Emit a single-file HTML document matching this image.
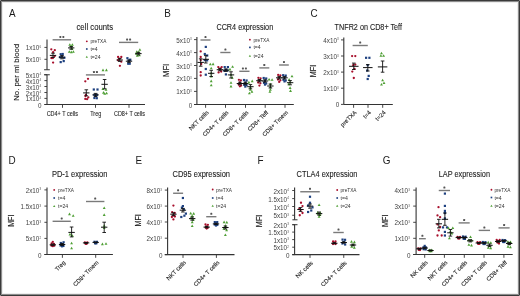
<!DOCTYPE html>
<html><head><meta charset="utf-8"><style>
html,body{margin:0;padding:0;background:#fff;}
body{width:520px;height:296px;overflow:hidden;position:relative;}
svg{position:absolute;left:0;top:0;font-family:"Liberation Sans", sans-serif;will-change:transform;}
.frame{position:absolute;box-sizing:border-box;}
.f1{left:0;top:0;width:520px;height:296px;border:1px solid #3a3a3a;}
.f2{left:1px;top:1px;width:518px;height:294px;border:1px solid rgba(58,58,58,0.58);}
.f3{left:2px;top:2px;width:516px;height:292px;border:1px solid rgba(58,58,58,0.09);}
</style></head><body>
<svg width="520" height="296" viewBox="0 0 520 296">
<rect width="520" height="296" fill="#fff"/>
<text transform="translate(8.90,16.90) scale(0.9,1)" font-size="11" fill="#1a1a1a">A</text>
<text x="76.50" y="29.70" font-size="8.2" text-anchor="start" fill="#222" textLength="36.6" lengthAdjust="spacingAndGlyphs" stroke="#222" stroke-width="0.1">cell counts</text>
<text transform="translate(19.20,72.25) rotate(-90)" font-size="8.0" text-anchor="middle" fill="#222" textLength="57" lengthAdjust="spacingAndGlyphs" stroke="#222" stroke-width="0.15">No. per ml blood</text>
<line x1="47.00" y1="39.50" x2="47.00" y2="69.75" stroke="#333" stroke-width="1.1"/>
<line x1="44.10" y1="69.75" x2="49.80" y2="69.75" stroke="#333" stroke-width="1.0"/>
<line x1="44.40" y1="47.40" x2="47.00" y2="47.40" stroke="#333" stroke-width="0.9"/>
<text x="39.30" y="50.40" font-size="6.3" text-anchor="end" fill="#444">1x10</text>
<text x="39.40" y="47.90" font-size="3.0" text-anchor="start" fill="#555">6</text>
<line x1="44.40" y1="59.30" x2="47.00" y2="59.30" stroke="#333" stroke-width="0.9"/>
<text x="39.30" y="62.30" font-size="6.3" text-anchor="end" fill="#444">5x10</text>
<text x="39.40" y="59.80" font-size="3.0" text-anchor="start" fill="#555">5</text>
<line x1="47.00" y1="74.75" x2="47.00" y2="104.50" stroke="#333" stroke-width="1.1"/>
<line x1="44.10" y1="74.75" x2="49.80" y2="74.75" stroke="#333" stroke-width="1.0"/>
<line x1="44.40" y1="74.75" x2="47.00" y2="74.75" stroke="#333" stroke-width="0.9"/>
<text x="39.30" y="77.75" font-size="6.3" text-anchor="end" fill="#444">5x10</text>
<text x="39.40" y="75.25" font-size="3.0" text-anchor="start" fill="#555">4</text>
<line x1="44.40" y1="80.60" x2="47.00" y2="80.60" stroke="#333" stroke-width="0.9"/>
<text x="39.30" y="83.60" font-size="6.3" text-anchor="end" fill="#444">4x10</text>
<text x="39.40" y="81.10" font-size="3.0" text-anchor="start" fill="#555">4</text>
<line x1="44.40" y1="86.50" x2="47.00" y2="86.50" stroke="#333" stroke-width="0.9"/>
<text x="39.30" y="89.50" font-size="6.3" text-anchor="end" fill="#444">3x10</text>
<text x="39.40" y="87.00" font-size="3.0" text-anchor="start" fill="#555">4</text>
<line x1="44.40" y1="92.50" x2="47.00" y2="92.50" stroke="#333" stroke-width="0.9"/>
<text x="39.30" y="95.50" font-size="6.3" text-anchor="end" fill="#444">2x10</text>
<text x="39.40" y="93.00" font-size="3.0" text-anchor="start" fill="#555">4</text>
<line x1="44.40" y1="98.40" x2="47.00" y2="98.40" stroke="#333" stroke-width="0.9"/>
<text x="39.30" y="101.40" font-size="6.3" text-anchor="end" fill="#444">1x10</text>
<text x="39.40" y="98.90" font-size="3.0" text-anchor="start" fill="#555">4</text>
<line x1="44.40" y1="104.50" x2="47.00" y2="104.50" stroke="#333" stroke-width="0.9"/>
<text x="41.60" y="107.50" font-size="6.3" text-anchor="end" fill="#444">0</text>
<line x1="44.40" y1="104.50" x2="145.00" y2="104.50" stroke="#333" stroke-width="1.1"/>
<line x1="62.50" y1="104.50" x2="62.50" y2="107.80" stroke="#333" stroke-width="0.9"/>
<line x1="95.50" y1="104.50" x2="95.50" y2="107.80" stroke="#333" stroke-width="0.9"/>
<line x1="129.00" y1="104.50" x2="129.00" y2="107.80" stroke="#333" stroke-width="0.9"/>
<text x="62.30" y="115.70" font-size="6.3" text-anchor="middle" fill="#222" textLength="31.3" lengthAdjust="spacingAndGlyphs" stroke="#222" stroke-width="0.08">CD4+ T cells</text>
<text x="95.70" y="115.70" font-size="6.3" text-anchor="middle" fill="#222" textLength="11" lengthAdjust="spacingAndGlyphs" stroke="#222" stroke-width="0.08">Treg</text>
<text x="129.50" y="115.70" font-size="6.3" text-anchor="middle" fill="#222" textLength="31" lengthAdjust="spacingAndGlyphs" stroke="#222" stroke-width="0.08">CD8+ T cells</text>
<circle cx="86.80" cy="41.30" r="0.92" fill="#a80f2c"/>
<rect x="85.97" y="48.17" width="1.65" height="1.65" fill="#1e4180"/>
<path d="M86.80 55.74L87.96 57.83L85.64 57.83Z" fill="#4f9f35"/>
<text x="90.40" y="43.30" font-size="5.8" text-anchor="start" fill="#333" textLength="16.0" lengthAdjust="spacingAndGlyphs">preTXA</text>
<text x="90.40" y="51.00" font-size="5.8" text-anchor="start" fill="#333" textLength="7.3" lengthAdjust="spacingAndGlyphs">t=4</text>
<text x="90.40" y="58.60" font-size="5.8" text-anchor="start" fill="#333" textLength="10.1" lengthAdjust="spacingAndGlyphs">t=24</text>
<line x1="52.60" y1="39.80" x2="71.10" y2="39.80" stroke="#7a7a7a" stroke-width="1.4"/>
<rect x="59.35" y="35.90" width="2" height="2" rx="0.6" fill="#555"/>
<rect x="62.35" y="35.90" width="2" height="2" rx="0.6" fill="#555"/>
<line x1="85.90" y1="74.90" x2="105.00" y2="74.90" stroke="#7a7a7a" stroke-width="1.4"/>
<rect x="92.95" y="71.00" width="2" height="2" rx="0.6" fill="#555"/>
<rect x="95.95" y="71.00" width="2" height="2" rx="0.6" fill="#555"/>
<line x1="119.00" y1="42.40" x2="138.20" y2="42.40" stroke="#7a7a7a" stroke-width="1.4"/>
<rect x="126.10" y="38.50" width="2" height="2" rx="0.6" fill="#555"/>
<rect x="129.10" y="38.50" width="2" height="2" rx="0.6" fill="#555"/>
<circle cx="51.30" cy="49.30" r="1.15" fill="#a80f2c"/>
<circle cx="54.80" cy="50.20" r="1.15" fill="#a80f2c"/>
<circle cx="53.10" cy="52.20" r="1.15" fill="#a80f2c"/>
<circle cx="51.40" cy="58.00" r="1.15" fill="#a80f2c"/>
<circle cx="52.90" cy="58.00" r="1.15" fill="#a80f2c"/>
<circle cx="54.60" cy="56.20" r="1.15" fill="#a80f2c"/>
<circle cx="53.10" cy="62.60" r="1.15" fill="#a80f2c"/>
<line x1="49.80" y1="55.40" x2="56.20" y2="55.40" stroke="#111" stroke-width="1.0"/>
<line x1="53.00" y1="53.20" x2="53.00" y2="57.40" stroke="#111" stroke-width="0.9"/>
<line x1="51.20" y1="53.20" x2="54.80" y2="53.20" stroke="#111" stroke-width="0.9"/>
<line x1="51.20" y1="57.40" x2="54.80" y2="57.40" stroke="#111" stroke-width="0.9"/>
<rect x="59.60" y="53.10" width="2.20" height="2.20" fill="#1e4180"/>
<rect x="61.60" y="52.90" width="2.20" height="2.20" fill="#1e4180"/>
<rect x="58.90" y="56.10" width="2.20" height="2.20" fill="#1e4180"/>
<rect x="63.20" y="56.70" width="2.20" height="2.20" fill="#1e4180"/>
<rect x="59.60" y="61.00" width="2.20" height="2.20" fill="#1e4180"/>
<rect x="62.60" y="60.00" width="2.20" height="2.20" fill="#1e4180"/>
<rect x="60.90" y="55.40" width="2.20" height="2.20" fill="#1e4180"/>
<line x1="58.80" y1="57.20" x2="65.20" y2="57.20" stroke="#111" stroke-width="1.0"/>
<line x1="62.00" y1="55.60" x2="62.00" y2="58.80" stroke="#111" stroke-width="0.9"/>
<line x1="60.20" y1="55.60" x2="63.80" y2="55.60" stroke="#111" stroke-width="0.9"/>
<line x1="60.20" y1="58.80" x2="63.80" y2="58.80" stroke="#111" stroke-width="0.9"/>
<path d="M69.80 43.15L71.25 45.76L68.35 45.76Z" fill="#4f9f35"/>
<path d="M72.40 43.15L73.85 45.76L70.95 45.76Z" fill="#4f9f35"/>
<path d="M71.10 44.65L72.55 47.26L69.65 47.26Z" fill="#4f9f35"/>
<path d="M69.30 50.25L70.75 52.86L67.85 52.86Z" fill="#4f9f35"/>
<path d="M71.30 50.55L72.75 53.16L69.85 53.16Z" fill="#4f9f35"/>
<path d="M73.40 50.25L74.85 52.86L71.95 52.86Z" fill="#4f9f35"/>
<path d="M72.00 47.05L73.45 49.66L70.55 49.66Z" fill="#4f9f35"/>
<line x1="68.00" y1="47.90" x2="74.40" y2="47.90" stroke="#111" stroke-width="1.0"/>
<line x1="71.20" y1="46.60" x2="71.20" y2="49.20" stroke="#111" stroke-width="0.9"/>
<line x1="69.40" y1="46.60" x2="73.00" y2="46.60" stroke="#111" stroke-width="0.9"/>
<line x1="69.40" y1="49.20" x2="73.00" y2="49.20" stroke="#111" stroke-width="0.9"/>
<circle cx="85.30" cy="81.30" r="1.15" fill="#a80f2c"/>
<circle cx="88.00" cy="78.80" r="1.15" fill="#a80f2c"/>
<circle cx="85.90" cy="95.00" r="1.15" fill="#a80f2c"/>
<circle cx="85.30" cy="98.90" r="1.15" fill="#a80f2c"/>
<circle cx="87.10" cy="99.20" r="1.15" fill="#a80f2c"/>
<circle cx="88.30" cy="97.40" r="1.15" fill="#a80f2c"/>
<circle cx="85.50" cy="96.10" r="1.15" fill="#a80f2c"/>
<line x1="83.10" y1="92.90" x2="89.50" y2="92.90" stroke="#111" stroke-width="1.0"/>
<line x1="86.30" y1="89.80" x2="86.30" y2="95.80" stroke="#111" stroke-width="0.9"/>
<line x1="84.50" y1="89.80" x2="88.10" y2="89.80" stroke="#111" stroke-width="0.9"/>
<line x1="84.50" y1="95.80" x2="88.10" y2="95.80" stroke="#111" stroke-width="0.9"/>
<rect x="92.70" y="88.40" width="2.20" height="2.20" fill="#1e4180"/>
<rect x="96.40" y="88.40" width="2.20" height="2.20" fill="#1e4180"/>
<rect x="93.30" y="93.80" width="2.20" height="2.20" fill="#1e4180"/>
<rect x="95.70" y="93.80" width="2.20" height="2.20" fill="#1e4180"/>
<rect x="93.30" y="96.90" width="2.20" height="2.20" fill="#1e4180"/>
<rect x="95.70" y="97.10" width="2.20" height="2.20" fill="#1e4180"/>
<rect x="94.50" y="95.00" width="2.20" height="2.20" fill="#1e4180"/>
<line x1="92.40" y1="94.90" x2="98.80" y2="94.90" stroke="#111" stroke-width="1.0"/>
<line x1="95.60" y1="93.40" x2="95.60" y2="96.40" stroke="#111" stroke-width="0.9"/>
<line x1="93.80" y1="93.40" x2="97.40" y2="93.40" stroke="#111" stroke-width="0.9"/>
<line x1="93.80" y1="96.40" x2="97.40" y2="96.40" stroke="#111" stroke-width="0.9"/>
<path d="M103.00 68.55L104.45 71.16L101.55 71.16Z" fill="#4f9f35"/>
<path d="M106.40 68.55L107.85 71.16L104.95 71.16Z" fill="#4f9f35"/>
<path d="M102.90 87.35L104.35 89.96L101.45 89.96Z" fill="#4f9f35"/>
<path d="M106.00 88.05L107.45 90.66L104.55 90.66Z" fill="#4f9f35"/>
<path d="M103.50 91.05L104.95 93.66L102.05 93.66Z" fill="#4f9f35"/>
<path d="M106.60 91.65L108.05 94.26L105.15 94.26Z" fill="#4f9f35"/>
<path d="M104.70 92.25L106.15 94.86L103.25 94.86Z" fill="#4f9f35"/>
<line x1="101.40" y1="84.30" x2="107.80" y2="84.30" stroke="#111" stroke-width="1.0"/>
<line x1="104.60" y1="79.50" x2="104.60" y2="88.80" stroke="#111" stroke-width="0.9"/>
<line x1="102.80" y1="79.50" x2="106.40" y2="79.50" stroke="#111" stroke-width="0.9"/>
<line x1="102.80" y1="88.80" x2="106.40" y2="88.80" stroke="#111" stroke-width="0.9"/>
<circle cx="118.10" cy="57.00" r="1.15" fill="#a80f2c"/>
<circle cx="121.30" cy="57.00" r="1.15" fill="#a80f2c"/>
<circle cx="119.60" cy="58.70" r="1.15" fill="#a80f2c"/>
<circle cx="118.10" cy="60.20" r="1.15" fill="#a80f2c"/>
<circle cx="121.30" cy="61.70" r="1.15" fill="#a80f2c"/>
<circle cx="119.90" cy="65.80" r="1.15" fill="#a80f2c"/>
<line x1="116.50" y1="60.00" x2="122.90" y2="60.00" stroke="#111" stroke-width="1.0"/>
<line x1="119.70" y1="58.60" x2="119.70" y2="61.40" stroke="#111" stroke-width="0.9"/>
<line x1="117.90" y1="58.60" x2="121.50" y2="58.60" stroke="#111" stroke-width="0.9"/>
<line x1="117.90" y1="61.40" x2="121.50" y2="61.40" stroke="#111" stroke-width="0.9"/>
<rect x="126.30" y="57.10" width="2.20" height="2.20" fill="#1e4180"/>
<rect x="129.20" y="58.60" width="2.20" height="2.20" fill="#1e4180"/>
<rect x="127.60" y="60.10" width="2.20" height="2.20" fill="#1e4180"/>
<rect x="127.10" y="62.60" width="2.20" height="2.20" fill="#1e4180"/>
<rect x="128.60" y="62.60" width="2.20" height="2.20" fill="#1e4180"/>
<rect x="128.40" y="58.90" width="2.20" height="2.20" fill="#1e4180"/>
<line x1="125.80" y1="61.20" x2="132.20" y2="61.20" stroke="#111" stroke-width="1.0"/>
<line x1="129.00" y1="60.00" x2="129.00" y2="62.40" stroke="#111" stroke-width="0.9"/>
<line x1="127.20" y1="60.00" x2="130.80" y2="60.00" stroke="#111" stroke-width="0.9"/>
<line x1="127.20" y1="62.40" x2="130.80" y2="62.40" stroke="#111" stroke-width="0.9"/>
<path d="M136.80 50.15L138.25 52.76L135.35 52.76Z" fill="#4f9f35"/>
<path d="M139.90 48.15L141.35 50.76L138.45 50.76Z" fill="#4f9f35"/>
<path d="M136.30 52.15L137.75 54.76L134.85 54.76Z" fill="#4f9f35"/>
<path d="M139.40 53.65L140.85 56.26L137.95 56.26Z" fill="#4f9f35"/>
<path d="M137.30 54.15L138.75 56.76L135.85 56.76Z" fill="#4f9f35"/>
<path d="M138.70 50.55L140.15 53.16L137.25 53.16Z" fill="#4f9f35"/>
<line x1="135.20" y1="53.60" x2="141.60" y2="53.60" stroke="#111" stroke-width="1.0"/>
<line x1="138.40" y1="52.30" x2="138.40" y2="54.90" stroke="#111" stroke-width="0.9"/>
<line x1="136.60" y1="52.30" x2="140.20" y2="52.30" stroke="#111" stroke-width="0.9"/>
<line x1="136.60" y1="54.90" x2="140.20" y2="54.90" stroke="#111" stroke-width="0.9"/>
<text transform="translate(164.30,16.90) scale(0.9,1)" font-size="11" fill="#1a1a1a">B</text>
<text x="216.40" y="29.75" font-size="8.2" text-anchor="start" fill="#222" textLength="56.8" lengthAdjust="spacingAndGlyphs" stroke="#222" stroke-width="0.1">CCR4 expression</text>
<text transform="translate(169.40,70.40) rotate(-90)" font-size="8.5" text-anchor="middle" fill="#222" textLength="13.2" lengthAdjust="spacingAndGlyphs" stroke="#222" stroke-width="0.15">MFI</text>
<line x1="196.90" y1="37.00" x2="196.90" y2="104.50" stroke="#333" stroke-width="1.1"/>
<line x1="194.00" y1="104.50" x2="196.90" y2="104.50" stroke="#333" stroke-width="0.9"/>
<text x="192.20" y="107.50" font-size="6.3" text-anchor="end" fill="#444">0</text>
<line x1="194.00" y1="91.40" x2="196.90" y2="91.40" stroke="#333" stroke-width="0.9"/>
<text x="189.90" y="94.40" font-size="6.3" text-anchor="end" fill="#444">1x10</text>
<text x="190.00" y="91.90" font-size="3.0" text-anchor="start" fill="#555">3</text>
<line x1="194.00" y1="78.40" x2="196.90" y2="78.40" stroke="#333" stroke-width="0.9"/>
<text x="189.90" y="81.40" font-size="6.3" text-anchor="end" fill="#444">2x10</text>
<text x="190.00" y="78.90" font-size="3.0" text-anchor="start" fill="#555">3</text>
<line x1="194.00" y1="65.50" x2="196.90" y2="65.50" stroke="#333" stroke-width="0.9"/>
<text x="189.90" y="68.50" font-size="6.3" text-anchor="end" fill="#444">3x10</text>
<text x="190.00" y="66.00" font-size="3.0" text-anchor="start" fill="#555">3</text>
<line x1="194.00" y1="52.60" x2="196.90" y2="52.60" stroke="#333" stroke-width="0.9"/>
<text x="189.90" y="55.60" font-size="6.3" text-anchor="end" fill="#444">4x10</text>
<text x="190.00" y="53.10" font-size="3.0" text-anchor="start" fill="#555">3</text>
<line x1="194.00" y1="39.60" x2="196.90" y2="39.60" stroke="#333" stroke-width="0.9"/>
<text x="189.90" y="42.60" font-size="6.3" text-anchor="end" fill="#444">5x10</text>
<text x="190.00" y="40.10" font-size="3.0" text-anchor="start" fill="#555">3</text>
<line x1="194.00" y1="104.50" x2="293.80" y2="104.50" stroke="#333" stroke-width="1.1"/>
<line x1="205.60" y1="104.50" x2="205.60" y2="107.80" stroke="#333" stroke-width="0.9"/>
<line x1="225.50" y1="104.50" x2="225.50" y2="107.80" stroke="#333" stroke-width="0.9"/>
<line x1="245.50" y1="104.50" x2="245.50" y2="107.80" stroke="#333" stroke-width="0.9"/>
<line x1="265.20" y1="104.50" x2="265.20" y2="107.80" stroke="#333" stroke-width="0.9"/>
<line x1="285.00" y1="104.50" x2="285.00" y2="107.80" stroke="#333" stroke-width="0.9"/>
<circle cx="249.90" cy="39.70" r="0.92" fill="#a80f2c"/>
<rect x="249.07" y="46.57" width="1.65" height="1.65" fill="#1e4180"/>
<path d="M249.90 54.64L251.06 56.73L248.74 56.73Z" fill="#4f9f35"/>
<text x="253.40" y="41.70" font-size="5.8" text-anchor="start" fill="#333" textLength="16.0" lengthAdjust="spacingAndGlyphs">preTXA</text>
<text x="253.40" y="49.40" font-size="5.8" text-anchor="start" fill="#333" textLength="7.3" lengthAdjust="spacingAndGlyphs">t=4</text>
<text x="253.40" y="57.50" font-size="5.8" text-anchor="start" fill="#333" textLength="10.1" lengthAdjust="spacingAndGlyphs">t=24</text>
<line x1="200.50" y1="40.00" x2="210.50" y2="40.00" stroke="#7a7a7a" stroke-width="1.4"/>
<rect x="204.50" y="36.10" width="2" height="2" rx="0.6" fill="#555"/>
<line x1="220.30" y1="52.50" x2="230.50" y2="52.50" stroke="#7a7a7a" stroke-width="1.4"/>
<rect x="224.40" y="48.60" width="2" height="2" rx="0.6" fill="#555"/>
<line x1="239.30" y1="71.30" x2="249.50" y2="71.30" stroke="#7a7a7a" stroke-width="1.4"/>
<rect x="241.90" y="67.40" width="2" height="2" rx="0.6" fill="#555"/>
<rect x="244.90" y="67.40" width="2" height="2" rx="0.6" fill="#555"/>
<line x1="259.30" y1="67.90" x2="269.30" y2="67.90" stroke="#7a7a7a" stroke-width="1.4"/>
<rect x="263.30" y="64.00" width="2" height="2" rx="0.6" fill="#555"/>
<line x1="279.10" y1="65.00" x2="288.80" y2="65.00" stroke="#7a7a7a" stroke-width="1.4"/>
<rect x="282.95" y="61.10" width="2" height="2" rx="0.6" fill="#555"/>
<circle cx="200.70" cy="51.40" r="1.15" fill="#a80f2c"/>
<circle cx="200.70" cy="57.00" r="1.15" fill="#a80f2c"/>
<circle cx="200.70" cy="60.10" r="1.15" fill="#a80f2c"/>
<circle cx="200.70" cy="72.20" r="1.15" fill="#a80f2c"/>
<circle cx="200.70" cy="75.50" r="1.15" fill="#a80f2c"/>
<circle cx="201.20" cy="64.00" r="1.15" fill="#a80f2c"/>
<line x1="197.50" y1="62.40" x2="203.90" y2="62.40" stroke="#111" stroke-width="1.0"/>
<line x1="200.70" y1="58.80" x2="200.70" y2="66.20" stroke="#111" stroke-width="0.9"/>
<line x1="198.90" y1="58.80" x2="202.50" y2="58.80" stroke="#111" stroke-width="0.9"/>
<line x1="198.90" y1="66.20" x2="202.50" y2="66.20" stroke="#111" stroke-width="0.9"/>
<rect x="204.70" y="45.80" width="2.20" height="2.20" fill="#1e4180"/>
<rect x="203.70" y="52.90" width="2.20" height="2.20" fill="#1e4180"/>
<rect x="206.10" y="54.40" width="2.20" height="2.20" fill="#1e4180"/>
<rect x="203.70" y="59.00" width="2.20" height="2.20" fill="#1e4180"/>
<rect x="206.00" y="59.30" width="2.20" height="2.20" fill="#1e4180"/>
<rect x="204.70" y="67.90" width="2.20" height="2.20" fill="#1e4180"/>
<rect x="204.70" y="73.60" width="2.20" height="2.20" fill="#1e4180"/>
<line x1="202.60" y1="59.30" x2="209.00" y2="59.30" stroke="#111" stroke-width="1.0"/>
<line x1="205.80" y1="55.60" x2="205.80" y2="63.00" stroke="#111" stroke-width="0.9"/>
<line x1="204.00" y1="55.60" x2="207.60" y2="55.60" stroke="#111" stroke-width="0.9"/>
<line x1="204.00" y1="63.00" x2="207.60" y2="63.00" stroke="#111" stroke-width="0.9"/>
<path d="M210.30 62.75L211.75 65.36L208.85 65.36Z" fill="#4f9f35"/>
<path d="M213.10 62.55L214.55 65.16L211.65 65.16Z" fill="#4f9f35"/>
<path d="M211.20 66.65L212.65 69.26L209.75 69.26Z" fill="#4f9f35"/>
<path d="M211.20 71.55L212.65 74.16L209.75 74.16Z" fill="#4f9f35"/>
<path d="M211.20 74.85L212.65 77.46L209.75 77.46Z" fill="#4f9f35"/>
<path d="M211.20 79.55L212.65 82.16L209.75 82.16Z" fill="#4f9f35"/>
<path d="M211.20 83.65L212.65 86.26L209.75 86.26Z" fill="#4f9f35"/>
<line x1="208.00" y1="73.30" x2="214.40" y2="73.30" stroke="#111" stroke-width="1.0"/>
<line x1="211.20" y1="70.30" x2="211.20" y2="76.50" stroke="#111" stroke-width="0.9"/>
<line x1="209.40" y1="70.30" x2="213.00" y2="70.30" stroke="#111" stroke-width="0.9"/>
<line x1="209.40" y1="76.50" x2="213.00" y2="76.50" stroke="#111" stroke-width="0.9"/>
<circle cx="218.30" cy="67.10" r="1.15" fill="#a80f2c"/>
<circle cx="221.70" cy="67.10" r="1.15" fill="#a80f2c"/>
<circle cx="219.90" cy="69.70" r="1.15" fill="#a80f2c"/>
<circle cx="218.60" cy="72.40" r="1.15" fill="#a80f2c"/>
<circle cx="221.20" cy="71.50" r="1.15" fill="#a80f2c"/>
<circle cx="220.20" cy="68.50" r="1.15" fill="#a80f2c"/>
<line x1="216.70" y1="69.70" x2="223.10" y2="69.70" stroke="#111" stroke-width="1.0"/>
<line x1="219.90" y1="68.60" x2="219.90" y2="70.80" stroke="#111" stroke-width="0.9"/>
<line x1="218.10" y1="68.60" x2="221.70" y2="68.60" stroke="#111" stroke-width="0.9"/>
<line x1="218.10" y1="70.80" x2="221.70" y2="70.80" stroke="#111" stroke-width="0.9"/>
<rect x="223.60" y="66.00" width="2.20" height="2.20" fill="#1e4180"/>
<rect x="226.80" y="66.00" width="2.20" height="2.20" fill="#1e4180"/>
<rect x="224.80" y="68.60" width="2.20" height="2.20" fill="#1e4180"/>
<rect x="223.30" y="69.70" width="2.20" height="2.20" fill="#1e4180"/>
<rect x="226.40" y="69.40" width="2.20" height="2.20" fill="#1e4180"/>
<rect x="224.80" y="73.30" width="2.20" height="2.20" fill="#1e4180"/>
<line x1="222.70" y1="70.20" x2="229.10" y2="70.20" stroke="#111" stroke-width="1.0"/>
<line x1="225.90" y1="69.00" x2="225.90" y2="71.40" stroke="#111" stroke-width="0.9"/>
<line x1="224.10" y1="69.00" x2="227.70" y2="69.00" stroke="#111" stroke-width="0.9"/>
<line x1="224.10" y1="71.40" x2="227.70" y2="71.40" stroke="#111" stroke-width="0.9"/>
<path d="M232.60 65.25L234.05 67.86L231.15 67.86Z" fill="#4f9f35"/>
<path d="M230.00 67.85L231.45 70.46L228.55 70.46Z" fill="#4f9f35"/>
<path d="M231.00 73.15L232.45 75.76L229.55 75.76Z" fill="#4f9f35"/>
<path d="M231.00 81.25L232.45 83.86L229.55 83.86Z" fill="#4f9f35"/>
<path d="M231.00 84.85L232.45 87.46L229.55 87.46Z" fill="#4f9f35"/>
<path d="M232.20 76.05L233.65 78.66L230.75 78.66Z" fill="#4f9f35"/>
<line x1="227.80" y1="74.90" x2="234.20" y2="74.90" stroke="#111" stroke-width="1.0"/>
<line x1="231.00" y1="71.80" x2="231.00" y2="78.00" stroke="#111" stroke-width="0.9"/>
<line x1="229.20" y1="71.80" x2="232.80" y2="71.80" stroke="#111" stroke-width="0.9"/>
<line x1="229.20" y1="78.00" x2="232.80" y2="78.00" stroke="#111" stroke-width="0.9"/>
<circle cx="238.90" cy="79.80" r="1.15" fill="#a80f2c"/>
<circle cx="240.90" cy="80.30" r="1.15" fill="#a80f2c"/>
<circle cx="239.90" cy="82.50" r="1.15" fill="#a80f2c"/>
<circle cx="238.70" cy="84.50" r="1.15" fill="#a80f2c"/>
<circle cx="241.10" cy="85.50" r="1.15" fill="#a80f2c"/>
<circle cx="239.90" cy="86.30" r="1.15" fill="#a80f2c"/>
<line x1="236.70" y1="83.50" x2="243.10" y2="83.50" stroke="#111" stroke-width="1.0"/>
<line x1="239.90" y1="82.20" x2="239.90" y2="84.80" stroke="#111" stroke-width="0.9"/>
<line x1="238.10" y1="82.20" x2="241.70" y2="82.20" stroke="#111" stroke-width="0.9"/>
<line x1="238.10" y1="84.80" x2="241.70" y2="84.80" stroke="#111" stroke-width="0.9"/>
<rect x="242.90" y="78.90" width="2.20" height="2.20" fill="#1e4180"/>
<rect x="245.50" y="79.40" width="2.20" height="2.20" fill="#1e4180"/>
<rect x="244.20" y="81.50" width="2.20" height="2.20" fill="#1e4180"/>
<rect x="243.20" y="83.70" width="2.20" height="2.20" fill="#1e4180"/>
<rect x="245.40" y="84.10" width="2.20" height="2.20" fill="#1e4180"/>
<rect x="244.20" y="85.50" width="2.20" height="2.20" fill="#1e4180"/>
<line x1="242.10" y1="83.50" x2="248.50" y2="83.50" stroke="#111" stroke-width="1.0"/>
<line x1="245.30" y1="82.20" x2="245.30" y2="84.80" stroke="#111" stroke-width="0.9"/>
<line x1="243.50" y1="82.20" x2="247.10" y2="82.20" stroke="#111" stroke-width="0.9"/>
<line x1="243.50" y1="84.80" x2="247.10" y2="84.80" stroke="#111" stroke-width="0.9"/>
<path d="M252.20 79.55L253.65 82.16L250.75 82.16Z" fill="#4f9f35"/>
<path d="M248.90 80.85L250.35 83.46L247.45 83.46Z" fill="#4f9f35"/>
<path d="M250.40 85.55L251.85 88.16L248.95 88.16Z" fill="#4f9f35"/>
<path d="M250.40 88.05L251.85 90.66L248.95 90.66Z" fill="#4f9f35"/>
<path d="M249.40 91.75L250.85 94.36L247.95 94.36Z" fill="#4f9f35"/>
<path d="M251.90 90.05L253.35 92.66L250.45 92.66Z" fill="#4f9f35"/>
<line x1="247.20" y1="86.70" x2="253.60" y2="86.70" stroke="#111" stroke-width="1.0"/>
<line x1="250.40" y1="84.60" x2="250.40" y2="88.80" stroke="#111" stroke-width="0.9"/>
<line x1="248.60" y1="84.60" x2="252.20" y2="84.60" stroke="#111" stroke-width="0.9"/>
<line x1="248.60" y1="88.80" x2="252.20" y2="88.80" stroke="#111" stroke-width="0.9"/>
<circle cx="258.40" cy="77.80" r="1.15" fill="#a80f2c"/>
<circle cx="260.60" cy="78.30" r="1.15" fill="#a80f2c"/>
<circle cx="259.40" cy="80.50" r="1.15" fill="#a80f2c"/>
<circle cx="258.20" cy="82.50" r="1.15" fill="#a80f2c"/>
<circle cx="260.40" cy="83.30" r="1.15" fill="#a80f2c"/>
<circle cx="259.40" cy="85.60" r="1.15" fill="#a80f2c"/>
<line x1="256.20" y1="80.70" x2="262.60" y2="80.70" stroke="#111" stroke-width="1.0"/>
<line x1="259.40" y1="79.50" x2="259.40" y2="81.90" stroke="#111" stroke-width="0.9"/>
<line x1="257.60" y1="79.50" x2="261.20" y2="79.50" stroke="#111" stroke-width="0.9"/>
<line x1="257.60" y1="81.90" x2="261.20" y2="81.90" stroke="#111" stroke-width="0.9"/>
<rect x="262.60" y="76.90" width="2.20" height="2.20" fill="#1e4180"/>
<rect x="265.10" y="77.40" width="2.20" height="2.20" fill="#1e4180"/>
<rect x="263.90" y="79.70" width="2.20" height="2.20" fill="#1e4180"/>
<rect x="262.90" y="81.70" width="2.20" height="2.20" fill="#1e4180"/>
<rect x="265.10" y="82.40" width="2.20" height="2.20" fill="#1e4180"/>
<rect x="263.90" y="83.50" width="2.20" height="2.20" fill="#1e4180"/>
<line x1="261.80" y1="81.00" x2="268.20" y2="81.00" stroke="#111" stroke-width="1.0"/>
<line x1="265.00" y1="79.80" x2="265.00" y2="82.20" stroke="#111" stroke-width="0.9"/>
<line x1="263.20" y1="79.80" x2="266.80" y2="79.80" stroke="#111" stroke-width="0.9"/>
<line x1="263.20" y1="82.20" x2="266.80" y2="82.20" stroke="#111" stroke-width="0.9"/>
<path d="M269.10 77.95L270.55 80.56L267.65 80.56Z" fill="#4f9f35"/>
<path d="M272.10 78.15L273.55 80.76L270.65 80.76Z" fill="#4f9f35"/>
<path d="M270.40 82.75L271.85 85.36L268.95 85.36Z" fill="#4f9f35"/>
<path d="M270.40 85.35L271.85 87.96L268.95 87.96Z" fill="#4f9f35"/>
<path d="M270.40 88.05L271.85 90.66L268.95 90.66Z" fill="#4f9f35"/>
<path d="M269.90 90.15L271.35 92.76L268.45 92.76Z" fill="#4f9f35"/>
<line x1="267.20" y1="86.00" x2="273.60" y2="86.00" stroke="#111" stroke-width="1.0"/>
<line x1="270.40" y1="84.00" x2="270.40" y2="88.00" stroke="#111" stroke-width="0.9"/>
<line x1="268.60" y1="84.00" x2="272.20" y2="84.00" stroke="#111" stroke-width="0.9"/>
<line x1="268.60" y1="88.00" x2="272.20" y2="88.00" stroke="#111" stroke-width="0.9"/>
<circle cx="278.20" cy="74.90" r="1.15" fill="#a80f2c"/>
<circle cx="280.40" cy="75.40" r="1.15" fill="#a80f2c"/>
<circle cx="279.20" cy="77.60" r="1.15" fill="#a80f2c"/>
<circle cx="278.00" cy="79.50" r="1.15" fill="#a80f2c"/>
<circle cx="280.40" cy="80.30" r="1.15" fill="#a80f2c"/>
<circle cx="279.20" cy="81.90" r="1.15" fill="#a80f2c"/>
<line x1="276.00" y1="77.80" x2="282.40" y2="77.80" stroke="#111" stroke-width="1.0"/>
<line x1="279.20" y1="76.60" x2="279.20" y2="79.00" stroke="#111" stroke-width="0.9"/>
<line x1="277.40" y1="76.60" x2="281.00" y2="76.60" stroke="#111" stroke-width="0.9"/>
<line x1="277.40" y1="79.00" x2="281.00" y2="79.00" stroke="#111" stroke-width="0.9"/>
<rect x="282.10" y="74.10" width="2.20" height="2.20" fill="#1e4180"/>
<rect x="284.60" y="74.50" width="2.20" height="2.20" fill="#1e4180"/>
<rect x="283.40" y="76.70" width="2.20" height="2.20" fill="#1e4180"/>
<rect x="282.40" y="78.70" width="2.20" height="2.20" fill="#1e4180"/>
<rect x="284.60" y="79.40" width="2.20" height="2.20" fill="#1e4180"/>
<rect x="283.40" y="80.30" width="2.20" height="2.20" fill="#1e4180"/>
<line x1="281.30" y1="77.80" x2="287.70" y2="77.80" stroke="#111" stroke-width="1.0"/>
<line x1="284.50" y1="76.60" x2="284.50" y2="79.00" stroke="#111" stroke-width="0.9"/>
<line x1="282.70" y1="76.60" x2="286.30" y2="76.60" stroke="#111" stroke-width="0.9"/>
<line x1="282.70" y1="79.00" x2="286.30" y2="79.00" stroke="#111" stroke-width="0.9"/>
<path d="M292.00 74.75L293.45 77.36L290.55 77.36Z" fill="#4f9f35"/>
<path d="M289.10 78.05L290.55 80.66L287.65 80.66Z" fill="#4f9f35"/>
<path d="M290.10 80.75L291.55 83.36L288.65 83.36Z" fill="#4f9f35"/>
<path d="M288.70 82.55L290.15 85.16L287.25 85.16Z" fill="#4f9f35"/>
<path d="M290.10 86.35L291.55 88.96L288.65 88.96Z" fill="#4f9f35"/>
<path d="M290.50 89.35L291.95 91.96L289.05 91.96Z" fill="#4f9f35"/>
<line x1="286.90" y1="82.70" x2="293.30" y2="82.70" stroke="#111" stroke-width="1.0"/>
<line x1="290.10" y1="80.60" x2="290.10" y2="84.80" stroke="#111" stroke-width="0.9"/>
<line x1="288.30" y1="80.60" x2="291.90" y2="80.60" stroke="#111" stroke-width="0.9"/>
<line x1="288.30" y1="84.80" x2="291.90" y2="84.80" stroke="#111" stroke-width="0.9"/>
<text transform="translate(209.00,113.00) rotate(-45)" font-size="5.9" text-anchor="end" fill="#222" stroke="#222" stroke-width="0.1">NKT cells</text>
<text transform="translate(228.90,113.00) rotate(-45)" font-size="5.9" text-anchor="end" fill="#222" stroke="#222" stroke-width="0.1">CD4+ T cells</text>
<text transform="translate(248.90,113.00) rotate(-45)" font-size="5.9" text-anchor="end" fill="#222" stroke="#222" stroke-width="0.1">CD8+ T cells</text>
<text transform="translate(268.60,113.00) rotate(-45)" font-size="5.9" text-anchor="end" fill="#222" stroke="#222" stroke-width="0.1">CD8+ Teff</text>
<text transform="translate(288.40,113.00) rotate(-45)" font-size="5.9" text-anchor="end" fill="#222" stroke="#222" stroke-width="0.1">CD8+ Tmem</text>
<text transform="translate(310.60,16.90) scale(0.9,1)" font-size="11" fill="#1a1a1a">C</text>
<text x="334.60" y="29.90" font-size="8.2" text-anchor="start" fill="#222" textLength="67.4" lengthAdjust="spacingAndGlyphs" stroke="#222" stroke-width="0.1">TNFR2 on CD8+ Teff</text>
<text transform="translate(316.30,71.00) rotate(-90)" font-size="8.5" text-anchor="middle" fill="#222" textLength="12.5" lengthAdjust="spacingAndGlyphs" stroke="#222" stroke-width="0.15">MFI</text>
<line x1="343.80" y1="37.40" x2="343.80" y2="104.50" stroke="#333" stroke-width="1.1"/>
<line x1="341.00" y1="104.40" x2="343.80" y2="104.40" stroke="#333" stroke-width="0.9"/>
<text x="339.30" y="107.40" font-size="6.3" text-anchor="end" fill="#444">0</text>
<line x1="341.00" y1="88.20" x2="343.80" y2="88.20" stroke="#333" stroke-width="0.9"/>
<text x="337.00" y="91.20" font-size="6.3" text-anchor="end" fill="#444">1x10</text>
<text x="337.10" y="88.70" font-size="3.0" text-anchor="start" fill="#555">3</text>
<line x1="341.00" y1="72.10" x2="343.80" y2="72.10" stroke="#333" stroke-width="0.9"/>
<text x="337.00" y="75.10" font-size="6.3" text-anchor="end" fill="#444">2x10</text>
<text x="337.10" y="72.60" font-size="3.0" text-anchor="start" fill="#555">3</text>
<line x1="341.00" y1="56.00" x2="343.80" y2="56.00" stroke="#333" stroke-width="0.9"/>
<text x="337.00" y="59.00" font-size="6.3" text-anchor="end" fill="#444">3x10</text>
<text x="337.10" y="56.50" font-size="3.0" text-anchor="start" fill="#555">3</text>
<line x1="341.00" y1="39.90" x2="343.80" y2="39.90" stroke="#333" stroke-width="0.9"/>
<text x="337.00" y="42.90" font-size="6.3" text-anchor="end" fill="#444">4x10</text>
<text x="337.10" y="40.40" font-size="3.0" text-anchor="start" fill="#555">3</text>
<line x1="343.80" y1="104.50" x2="392.80" y2="104.50" stroke="#333" stroke-width="1.1"/>
<line x1="353.60" y1="104.50" x2="353.60" y2="107.80" stroke="#333" stroke-width="0.9"/>
<line x1="368.00" y1="104.50" x2="368.00" y2="107.80" stroke="#333" stroke-width="0.9"/>
<line x1="382.70" y1="104.50" x2="382.70" y2="107.80" stroke="#333" stroke-width="0.9"/>
<line x1="352.60" y1="45.50" x2="367.80" y2="45.50" stroke="#7a7a7a" stroke-width="1.4"/>
<rect x="359.20" y="41.60" width="2" height="2" rx="0.6" fill="#555"/>
<circle cx="352.10" cy="56.10" r="1.15" fill="#a80f2c"/>
<circle cx="355.30" cy="56.10" r="1.15" fill="#a80f2c"/>
<circle cx="353.20" cy="65.20" r="1.15" fill="#a80f2c"/>
<circle cx="355.30" cy="64.60" r="1.15" fill="#a80f2c"/>
<circle cx="354.50" cy="68.80" r="1.15" fill="#a80f2c"/>
<circle cx="352.30" cy="71.60" r="1.15" fill="#a80f2c"/>
<circle cx="353.80" cy="78.00" r="1.15" fill="#a80f2c"/>
<line x1="349.05" y1="66.30" x2="358.55" y2="66.30" stroke="#111" stroke-width="1.0"/>
<line x1="353.80" y1="63.10" x2="353.80" y2="69.50" stroke="#111" stroke-width="0.9"/>
<line x1="352.00" y1="63.10" x2="355.60" y2="63.10" stroke="#111" stroke-width="0.9"/>
<line x1="352.00" y1="69.50" x2="355.60" y2="69.50" stroke="#111" stroke-width="0.9"/>
<rect x="365.00" y="56.70" width="2.20" height="2.20" fill="#1e4180"/>
<rect x="368.30" y="56.70" width="2.20" height="2.20" fill="#1e4180"/>
<rect x="366.60" y="64.10" width="2.20" height="2.20" fill="#1e4180"/>
<rect x="366.10" y="69.40" width="2.20" height="2.20" fill="#1e4180"/>
<rect x="367.60" y="74.80" width="2.20" height="2.20" fill="#1e4180"/>
<rect x="366.60" y="77.90" width="2.20" height="2.20" fill="#1e4180"/>
<line x1="363.05" y1="67.60" x2="372.55" y2="67.60" stroke="#111" stroke-width="1.0"/>
<line x1="367.80" y1="64.60" x2="367.80" y2="71.00" stroke="#111" stroke-width="0.9"/>
<line x1="366.00" y1="64.60" x2="369.60" y2="64.60" stroke="#111" stroke-width="0.9"/>
<line x1="366.00" y1="71.00" x2="369.60" y2="71.00" stroke="#111" stroke-width="0.9"/>
<path d="M381.50 51.65L382.95 54.26L380.05 54.26Z" fill="#4f9f35"/>
<path d="M383.60 54.15L385.05 56.76L382.15 56.76Z" fill="#4f9f35"/>
<path d="M380.90 54.15L382.35 56.76L379.45 56.76Z" fill="#4f9f35"/>
<path d="M382.60 78.65L384.05 81.26L381.15 81.26Z" fill="#4f9f35"/>
<path d="M381.50 82.95L382.95 85.56L380.05 85.56Z" fill="#4f9f35"/>
<path d="M384.00 81.45L385.45 84.06L382.55 84.06Z" fill="#4f9f35"/>
<line x1="377.85" y1="66.90" x2="387.35" y2="66.90" stroke="#111" stroke-width="1.0"/>
<line x1="382.60" y1="61.00" x2="382.60" y2="72.20" stroke="#111" stroke-width="0.9"/>
<line x1="380.80" y1="61.00" x2="384.40" y2="61.00" stroke="#111" stroke-width="0.9"/>
<line x1="380.80" y1="72.20" x2="384.40" y2="72.20" stroke="#111" stroke-width="0.9"/>
<text transform="translate(357.00,113.00) rotate(-45)" font-size="5.9" text-anchor="end" fill="#222" stroke="#222" stroke-width="0.1">preTXA</text>
<text transform="translate(371.40,113.00) rotate(-45)" font-size="5.9" text-anchor="end" fill="#222" stroke="#222" stroke-width="0.1">t=4</text>
<text transform="translate(386.10,113.00) rotate(-45)" font-size="5.9" text-anchor="end" fill="#222" stroke="#222" stroke-width="0.1">t=24</text>
<text transform="translate(8.50,164.40) scale(0.9,1)" font-size="11" fill="#1a1a1a">D</text>
<text x="51.90" y="176.90" font-size="8.2" text-anchor="start" fill="#222" textLength="55.6" lengthAdjust="spacingAndGlyphs" stroke="#222" stroke-width="0.1">PD-1 expression</text>
<text transform="translate(13.80,220.70) rotate(-90)" font-size="8.5" text-anchor="middle" fill="#222" textLength="12.3" lengthAdjust="spacingAndGlyphs" stroke="#222" stroke-width="0.15">MFI</text>
<line x1="47.00" y1="187.40" x2="47.00" y2="254.50" stroke="#333" stroke-width="1.1"/>
<line x1="44.40" y1="254.50" x2="47.00" y2="254.50" stroke="#333" stroke-width="0.9"/>
<text x="41.60" y="257.50" font-size="6.3" text-anchor="end" fill="#444">0</text>
<line x1="44.40" y1="238.40" x2="47.00" y2="238.40" stroke="#333" stroke-width="0.9"/>
<text x="39.30" y="241.40" font-size="6.3" text-anchor="end" fill="#444">5x10</text>
<text x="39.40" y="238.90" font-size="3.0" text-anchor="start" fill="#555">2</text>
<line x1="44.40" y1="222.30" x2="47.00" y2="222.30" stroke="#333" stroke-width="0.9"/>
<text x="39.30" y="225.30" font-size="6.3" text-anchor="end" fill="#444">1x10</text>
<text x="39.40" y="222.80" font-size="3.0" text-anchor="start" fill="#555">3</text>
<line x1="44.40" y1="206.10" x2="47.00" y2="206.10" stroke="#333" stroke-width="0.9"/>
<text x="39.30" y="209.10" font-size="6.3" text-anchor="end" fill="#444">1.5x10</text>
<text x="39.40" y="206.60" font-size="3.0" text-anchor="start" fill="#555">3</text>
<line x1="44.40" y1="189.90" x2="47.00" y2="189.90" stroke="#333" stroke-width="0.9"/>
<text x="39.30" y="192.90" font-size="6.3" text-anchor="end" fill="#444">2x10</text>
<text x="39.40" y="190.40" font-size="3.0" text-anchor="start" fill="#555">3</text>
<line x1="44.40" y1="254.50" x2="112.90" y2="254.50" stroke="#333" stroke-width="1.1"/>
<line x1="62.40" y1="254.50" x2="62.40" y2="257.80" stroke="#333" stroke-width="0.9"/>
<line x1="95.70" y1="254.50" x2="95.70" y2="257.80" stroke="#333" stroke-width="0.9"/>
<circle cx="54.20" cy="189.90" r="0.92" fill="#a80f2c"/>
<rect x="53.38" y="197.18" width="1.65" height="1.65" fill="#1e4180"/>
<path d="M54.20 204.89L55.36 206.98L53.04 206.98Z" fill="#4f9f35"/>
<text x="58.00" y="191.90" font-size="5.8" text-anchor="start" fill="#333" textLength="16.0" lengthAdjust="spacingAndGlyphs">preTXA</text>
<text x="58.00" y="200.00" font-size="5.8" text-anchor="start" fill="#333" textLength="7.3" lengthAdjust="spacingAndGlyphs">t=4</text>
<text x="58.00" y="207.75" font-size="5.8" text-anchor="start" fill="#333" textLength="10.1" lengthAdjust="spacingAndGlyphs">t=24</text>
<line x1="52.60" y1="221.30" x2="70.80" y2="221.30" stroke="#7a7a7a" stroke-width="1.4"/>
<rect x="60.70" y="217.40" width="2" height="2" rx="0.6" fill="#555"/>
<line x1="86.00" y1="201.50" x2="104.40" y2="201.50" stroke="#7a7a7a" stroke-width="1.4"/>
<rect x="94.20" y="197.60" width="2" height="2" rx="0.6" fill="#555"/>
<circle cx="51.60" cy="243.50" r="1.15" fill="#a80f2c"/>
<circle cx="54.00" cy="244.00" r="1.15" fill="#a80f2c"/>
<circle cx="52.80" cy="241.90" r="1.15" fill="#a80f2c"/>
<circle cx="51.30" cy="245.50" r="1.15" fill="#a80f2c"/>
<circle cx="54.30" cy="245.70" r="1.15" fill="#a80f2c"/>
<circle cx="52.80" cy="246.20" r="1.15" fill="#a80f2c"/>
<line x1="49.60" y1="244.80" x2="56.00" y2="244.80" stroke="#111" stroke-width="1.0"/>
<line x1="52.80" y1="244.00" x2="52.80" y2="245.60" stroke="#111" stroke-width="0.9"/>
<line x1="51.00" y1="244.00" x2="54.60" y2="244.00" stroke="#111" stroke-width="0.9"/>
<line x1="51.00" y1="245.60" x2="54.60" y2="245.60" stroke="#111" stroke-width="0.9"/>
<rect x="59.70" y="241.90" width="2.20" height="2.20" fill="#1e4180"/>
<rect x="62.50" y="241.20" width="2.20" height="2.20" fill="#1e4180"/>
<rect x="61.00" y="242.90" width="2.20" height="2.20" fill="#1e4180"/>
<rect x="59.50" y="244.40" width="2.20" height="2.20" fill="#1e4180"/>
<rect x="62.30" y="244.80" width="2.20" height="2.20" fill="#1e4180"/>
<rect x="61.00" y="245.20" width="2.20" height="2.20" fill="#1e4180"/>
<line x1="58.90" y1="244.50" x2="65.30" y2="244.50" stroke="#111" stroke-width="1.0"/>
<line x1="62.10" y1="243.50" x2="62.10" y2="245.50" stroke="#111" stroke-width="0.9"/>
<line x1="60.30" y1="243.50" x2="63.90" y2="243.50" stroke="#111" stroke-width="0.9"/>
<line x1="60.30" y1="245.50" x2="63.90" y2="245.50" stroke="#111" stroke-width="0.9"/>
<path d="M69.50 212.55L70.95 215.16L68.05 215.16Z" fill="#4f9f35"/>
<path d="M73.20 214.25L74.65 216.86L71.75 216.86Z" fill="#4f9f35"/>
<path d="M70.00 232.85L71.45 235.46L68.55 235.46Z" fill="#4f9f35"/>
<path d="M72.40 234.15L73.85 236.76L70.95 236.76Z" fill="#4f9f35"/>
<path d="M71.60 241.75L73.05 244.36L70.15 244.36Z" fill="#4f9f35"/>
<path d="M71.60 246.65L73.05 249.26L70.15 249.26Z" fill="#4f9f35"/>
<line x1="68.40" y1="232.40" x2="74.80" y2="232.40" stroke="#111" stroke-width="1.0"/>
<line x1="71.60" y1="227.00" x2="71.60" y2="236.90" stroke="#111" stroke-width="0.9"/>
<line x1="69.80" y1="227.00" x2="73.40" y2="227.00" stroke="#111" stroke-width="0.9"/>
<line x1="69.80" y1="236.90" x2="73.40" y2="236.90" stroke="#111" stroke-width="0.9"/>
<circle cx="84.90" cy="242.30" r="1.15" fill="#a80f2c"/>
<circle cx="87.30" cy="242.30" r="1.15" fill="#a80f2c"/>
<circle cx="86.10" cy="243.50" r="1.15" fill="#a80f2c"/>
<circle cx="85.50" cy="243.80" r="1.15" fill="#a80f2c"/>
<circle cx="86.70" cy="243.80" r="1.15" fill="#a80f2c"/>
<line x1="82.90" y1="242.90" x2="89.30" y2="242.90" stroke="#111" stroke-width="1.0"/>
<line x1="86.10" y1="242.50" x2="86.10" y2="243.30" stroke="#111" stroke-width="0.9"/>
<line x1="84.30" y1="242.50" x2="87.90" y2="242.50" stroke="#111" stroke-width="0.9"/>
<line x1="84.30" y1="243.30" x2="87.90" y2="243.30" stroke="#111" stroke-width="0.9"/>
<rect x="93.40" y="240.70" width="2.20" height="2.20" fill="#1e4180"/>
<rect x="95.80" y="240.70" width="2.20" height="2.20" fill="#1e4180"/>
<rect x="94.60" y="241.90" width="2.20" height="2.20" fill="#1e4180"/>
<rect x="94.00" y="242.20" width="2.20" height="2.20" fill="#1e4180"/>
<rect x="95.20" y="242.20" width="2.20" height="2.20" fill="#1e4180"/>
<line x1="92.50" y1="242.40" x2="98.90" y2="242.40" stroke="#111" stroke-width="1.0"/>
<line x1="95.70" y1="242.00" x2="95.70" y2="242.80" stroke="#111" stroke-width="0.9"/>
<line x1="93.90" y1="242.00" x2="97.50" y2="242.00" stroke="#111" stroke-width="0.9"/>
<line x1="93.90" y1="242.80" x2="97.50" y2="242.80" stroke="#111" stroke-width="0.9"/>
<path d="M104.20 206.45L105.65 209.06L102.75 209.06Z" fill="#4f9f35"/>
<path d="M104.20 213.35L105.65 215.96L102.75 215.96Z" fill="#4f9f35"/>
<path d="M104.20 224.15L105.65 226.76L102.75 226.76Z" fill="#4f9f35"/>
<path d="M104.20 226.45L105.65 229.06L102.75 229.06Z" fill="#4f9f35"/>
<path d="M102.40 242.55L103.85 245.16L100.95 245.16Z" fill="#4f9f35"/>
<path d="M106.00 242.15L107.45 244.76L104.55 244.76Z" fill="#4f9f35"/>
<line x1="101.00" y1="227.20" x2="107.40" y2="227.20" stroke="#111" stroke-width="1.0"/>
<line x1="104.20" y1="222.20" x2="104.20" y2="232.50" stroke="#111" stroke-width="0.9"/>
<line x1="102.40" y1="222.20" x2="106.00" y2="222.20" stroke="#111" stroke-width="0.9"/>
<line x1="102.40" y1="232.50" x2="106.00" y2="232.50" stroke="#111" stroke-width="0.9"/>
<text transform="translate(65.80,263.00) rotate(-45)" font-size="5.9" text-anchor="end" fill="#222" stroke="#222" stroke-width="0.1">Treg</text>
<text transform="translate(99.10,263.00) rotate(-45)" font-size="5.9" text-anchor="end" fill="#222" stroke="#222" stroke-width="0.1">CD8+ Tmem</text>
<text transform="translate(135.60,164.40) scale(0.9,1)" font-size="11" fill="#1a1a1a">E</text>
<text x="172.50" y="176.90" font-size="8.2" text-anchor="start" fill="#222" textLength="57.5" lengthAdjust="spacingAndGlyphs" stroke="#222" stroke-width="0.1">CD95 expression</text>
<text transform="translate(141.40,220.40) rotate(-90)" font-size="8.5" text-anchor="middle" fill="#222" textLength="12.3" lengthAdjust="spacingAndGlyphs" stroke="#222" stroke-width="0.15">MFI</text>
<line x1="167.60" y1="187.40" x2="167.60" y2="254.60" stroke="#333" stroke-width="1.1"/>
<line x1="164.80" y1="254.60" x2="167.60" y2="254.60" stroke="#333" stroke-width="0.9"/>
<text x="162.50" y="257.60" font-size="6.3" text-anchor="end" fill="#444">0</text>
<line x1="164.80" y1="238.20" x2="167.60" y2="238.20" stroke="#333" stroke-width="0.9"/>
<text x="160.20" y="241.20" font-size="6.3" text-anchor="end" fill="#444">2x10</text>
<text x="160.30" y="238.70" font-size="3.0" text-anchor="start" fill="#555">3</text>
<line x1="164.80" y1="222.00" x2="167.60" y2="222.00" stroke="#333" stroke-width="0.9"/>
<text x="160.20" y="225.00" font-size="6.3" text-anchor="end" fill="#444">4x10</text>
<text x="160.30" y="222.50" font-size="3.0" text-anchor="start" fill="#555">3</text>
<line x1="164.80" y1="206.10" x2="167.60" y2="206.10" stroke="#333" stroke-width="0.9"/>
<text x="160.20" y="209.10" font-size="6.3" text-anchor="end" fill="#444">6x10</text>
<text x="160.30" y="206.60" font-size="3.0" text-anchor="start" fill="#555">3</text>
<line x1="164.80" y1="190.10" x2="167.60" y2="190.10" stroke="#333" stroke-width="0.9"/>
<text x="160.20" y="193.10" font-size="6.3" text-anchor="end" fill="#444">8x10</text>
<text x="160.30" y="190.60" font-size="3.0" text-anchor="start" fill="#555">3</text>
<line x1="164.80" y1="254.60" x2="234.50" y2="254.60" stroke="#333" stroke-width="1.1"/>
<line x1="183.00" y1="254.60" x2="183.00" y2="257.90" stroke="#333" stroke-width="0.9"/>
<line x1="216.40" y1="254.60" x2="216.40" y2="257.90" stroke="#333" stroke-width="0.9"/>
<circle cx="212.70" cy="189.50" r="0.92" fill="#a80f2c"/>
<rect x="211.88" y="197.18" width="1.65" height="1.65" fill="#1e4180"/>
<path d="M212.70 204.64L213.86 206.73L211.54 206.73Z" fill="#4f9f35"/>
<text x="216.00" y="191.50" font-size="5.8" text-anchor="start" fill="#333" textLength="16.0" lengthAdjust="spacingAndGlyphs">preTXA</text>
<text x="216.00" y="200.00" font-size="5.8" text-anchor="start" fill="#333" textLength="7.3" lengthAdjust="spacingAndGlyphs">t=4</text>
<text x="216.00" y="207.50" font-size="5.8" text-anchor="start" fill="#333" textLength="10.1" lengthAdjust="spacingAndGlyphs">t=24</text>
<line x1="173.10" y1="193.25" x2="183.10" y2="193.25" stroke="#7a7a7a" stroke-width="1.4"/>
<rect x="177.10" y="189.35" width="2" height="2" rx="0.6" fill="#555"/>
<line x1="206.20" y1="216.70" x2="216.40" y2="216.70" stroke="#7a7a7a" stroke-width="1.4"/>
<rect x="210.30" y="212.80" width="2" height="2" rx="0.6" fill="#555"/>
<circle cx="173.40" cy="205.60" r="1.15" fill="#a80f2c"/>
<circle cx="172.20" cy="212.20" r="1.15" fill="#a80f2c"/>
<circle cx="174.70" cy="213.00" r="1.15" fill="#a80f2c"/>
<circle cx="173.40" cy="215.50" r="1.15" fill="#a80f2c"/>
<circle cx="171.90" cy="217.00" r="1.15" fill="#a80f2c"/>
<circle cx="174.90" cy="216.50" r="1.15" fill="#a80f2c"/>
<circle cx="173.40" cy="219.40" r="1.15" fill="#a80f2c"/>
<line x1="170.20" y1="214.20" x2="176.60" y2="214.20" stroke="#111" stroke-width="1.0"/>
<line x1="173.40" y1="212.80" x2="173.40" y2="215.60" stroke="#111" stroke-width="0.9"/>
<line x1="171.60" y1="212.80" x2="175.20" y2="212.80" stroke="#111" stroke-width="0.9"/>
<line x1="171.60" y1="215.60" x2="175.20" y2="215.60" stroke="#111" stroke-width="0.9"/>
<rect x="181.80" y="196.90" width="2.20" height="2.20" fill="#1e4180"/>
<rect x="181.80" y="205.00" width="2.20" height="2.20" fill="#1e4180"/>
<rect x="180.80" y="206.50" width="2.20" height="2.20" fill="#1e4180"/>
<rect x="182.80" y="208.40" width="2.20" height="2.20" fill="#1e4180"/>
<rect x="180.20" y="215.90" width="2.20" height="2.20" fill="#1e4180"/>
<rect x="183.30" y="214.60" width="2.20" height="2.20" fill="#1e4180"/>
<rect x="184.80" y="212.50" width="2.20" height="2.20" fill="#1e4180"/>
<line x1="179.70" y1="210.20" x2="186.10" y2="210.20" stroke="#111" stroke-width="1.0"/>
<line x1="182.90" y1="208.40" x2="182.90" y2="212.00" stroke="#111" stroke-width="0.9"/>
<line x1="181.10" y1="208.40" x2="184.70" y2="208.40" stroke="#111" stroke-width="0.9"/>
<line x1="181.10" y1="212.00" x2="184.70" y2="212.00" stroke="#111" stroke-width="0.9"/>
<path d="M190.70 211.85L192.15 214.46L189.25 214.46Z" fill="#4f9f35"/>
<path d="M193.70 212.05L195.15 214.66L192.25 214.66Z" fill="#4f9f35"/>
<path d="M192.20 214.35L193.65 216.96L190.75 216.96Z" fill="#4f9f35"/>
<path d="M191.00 216.75L192.45 219.36L189.55 219.36Z" fill="#4f9f35"/>
<path d="M193.40 218.15L194.85 220.76L191.95 220.76Z" fill="#4f9f35"/>
<path d="M192.20 220.55L193.65 223.16L190.75 223.16Z" fill="#4f9f35"/>
<path d="M192.20 224.45L193.65 227.06L190.75 227.06Z" fill="#4f9f35"/>
<line x1="189.00" y1="218.60" x2="195.40" y2="218.60" stroke="#111" stroke-width="1.0"/>
<line x1="192.20" y1="217.00" x2="192.20" y2="220.20" stroke="#111" stroke-width="0.9"/>
<line x1="190.40" y1="217.00" x2="194.00" y2="217.00" stroke="#111" stroke-width="0.9"/>
<line x1="190.40" y1="220.20" x2="194.00" y2="220.20" stroke="#111" stroke-width="0.9"/>
<circle cx="205.50" cy="224.50" r="1.15" fill="#a80f2c"/>
<circle cx="207.90" cy="224.80" r="1.15" fill="#a80f2c"/>
<circle cx="206.70" cy="226.30" r="1.15" fill="#a80f2c"/>
<circle cx="205.70" cy="227.60" r="1.15" fill="#a80f2c"/>
<circle cx="207.70" cy="227.80" r="1.15" fill="#a80f2c"/>
<circle cx="206.70" cy="228.50" r="1.15" fill="#a80f2c"/>
<line x1="203.50" y1="227.10" x2="209.90" y2="227.10" stroke="#111" stroke-width="1.0"/>
<line x1="206.70" y1="226.40" x2="206.70" y2="227.80" stroke="#111" stroke-width="0.9"/>
<line x1="204.90" y1="226.40" x2="208.50" y2="226.40" stroke="#111" stroke-width="0.9"/>
<line x1="204.90" y1="227.80" x2="208.50" y2="227.80" stroke="#111" stroke-width="0.9"/>
<rect x="213.70" y="221.00" width="2.20" height="2.20" fill="#1e4180"/>
<rect x="216.10" y="221.00" width="2.20" height="2.20" fill="#1e4180"/>
<rect x="214.90" y="222.30" width="2.20" height="2.20" fill="#1e4180"/>
<rect x="213.60" y="223.40" width="2.20" height="2.20" fill="#1e4180"/>
<rect x="216.20" y="223.70" width="2.20" height="2.20" fill="#1e4180"/>
<rect x="214.90" y="224.40" width="2.20" height="2.20" fill="#1e4180"/>
<line x1="212.80" y1="223.90" x2="219.20" y2="223.90" stroke="#111" stroke-width="1.0"/>
<line x1="216.00" y1="223.30" x2="216.00" y2="224.50" stroke="#111" stroke-width="0.9"/>
<line x1="214.20" y1="223.30" x2="217.80" y2="223.30" stroke="#111" stroke-width="0.9"/>
<line x1="214.20" y1="224.50" x2="217.80" y2="224.50" stroke="#111" stroke-width="0.9"/>
<path d="M224.10 220.55L225.55 223.16L222.65 223.16Z" fill="#4f9f35"/>
<path d="M226.80 220.85L228.25 223.46L225.35 223.46Z" fill="#4f9f35"/>
<path d="M225.40 224.05L226.85 226.66L223.95 226.66Z" fill="#4f9f35"/>
<path d="M223.90 227.05L225.35 229.66L222.45 229.66Z" fill="#4f9f35"/>
<path d="M226.60 228.55L228.05 231.16L225.15 231.16Z" fill="#4f9f35"/>
<path d="M225.40 233.45L226.85 236.06L223.95 236.06Z" fill="#4f9f35"/>
<line x1="222.20" y1="227.50" x2="228.60" y2="227.50" stroke="#111" stroke-width="1.0"/>
<line x1="225.40" y1="226.00" x2="225.40" y2="229.00" stroke="#111" stroke-width="0.9"/>
<line x1="223.60" y1="226.00" x2="227.20" y2="226.00" stroke="#111" stroke-width="0.9"/>
<line x1="223.60" y1="229.00" x2="227.20" y2="229.00" stroke="#111" stroke-width="0.9"/>
<text transform="translate(186.40,263.00) rotate(-45)" font-size="5.9" text-anchor="end" fill="#222" stroke="#222" stroke-width="0.1">NKT cells</text>
<text transform="translate(219.80,263.00) rotate(-45)" font-size="5.9" text-anchor="end" fill="#222" stroke="#222" stroke-width="0.1">CD4+ T cells</text>
<text transform="translate(257.50,164.40) scale(0.9,1)" font-size="11" fill="#1a1a1a">F</text>
<text x="296.60" y="176.90" font-size="8.2" text-anchor="start" fill="#222" textLength="60.9" lengthAdjust="spacingAndGlyphs" stroke="#222" stroke-width="0.1">CTLA4 expression</text>
<text transform="translate(262.20,220.90) rotate(-90)" font-size="8.5" text-anchor="middle" fill="#222" textLength="12.5" lengthAdjust="spacingAndGlyphs" stroke="#222" stroke-width="0.15">MFI</text>
<line x1="294.60" y1="187.40" x2="294.60" y2="219.80" stroke="#333" stroke-width="1.1"/>
<line x1="292.40" y1="219.80" x2="297.50" y2="219.80" stroke="#333" stroke-width="1.0"/>
<line x1="292.20" y1="215.25" x2="294.80" y2="215.25" stroke="#333" stroke-width="0.9"/>
<text x="287.10" y="218.25" font-size="6.3" text-anchor="end" fill="#444">5x10</text>
<text x="287.20" y="215.75" font-size="3.0" text-anchor="start" fill="#555">3</text>
<line x1="292.20" y1="206.50" x2="294.80" y2="206.50" stroke="#333" stroke-width="0.9"/>
<text x="287.10" y="209.50" font-size="6.3" text-anchor="end" fill="#444">1x10</text>
<text x="287.20" y="207.00" font-size="3.0" text-anchor="start" fill="#555">4</text>
<line x1="292.20" y1="198.60" x2="294.80" y2="198.60" stroke="#333" stroke-width="0.9"/>
<text x="287.10" y="201.60" font-size="6.3" text-anchor="end" fill="#444">1.5x10</text>
<text x="287.20" y="199.10" font-size="3.0" text-anchor="start" fill="#555">4</text>
<line x1="292.20" y1="190.50" x2="294.80" y2="190.50" stroke="#333" stroke-width="0.9"/>
<text x="287.10" y="193.50" font-size="6.3" text-anchor="end" fill="#444">2x10</text>
<text x="287.20" y="191.00" font-size="3.0" text-anchor="start" fill="#555">4</text>
<line x1="294.60" y1="224.70" x2="294.60" y2="254.60" stroke="#333" stroke-width="1.1"/>
<line x1="292.40" y1="224.70" x2="297.50" y2="224.70" stroke="#333" stroke-width="1.0"/>
<line x1="292.20" y1="254.60" x2="294.80" y2="254.60" stroke="#333" stroke-width="0.9"/>
<text x="289.40" y="257.60" font-size="6.3" text-anchor="end" fill="#444">0</text>
<line x1="292.20" y1="247.20" x2="294.80" y2="247.20" stroke="#333" stroke-width="0.9"/>
<text x="287.10" y="250.20" font-size="6.3" text-anchor="end" fill="#444">5x10</text>
<text x="287.20" y="247.70" font-size="3.0" text-anchor="start" fill="#555">2</text>
<line x1="292.20" y1="239.60" x2="294.80" y2="239.60" stroke="#333" stroke-width="0.9"/>
<text x="287.10" y="242.60" font-size="6.3" text-anchor="end" fill="#444">1x10</text>
<text x="287.20" y="240.10" font-size="3.0" text-anchor="start" fill="#555">3</text>
<line x1="292.20" y1="232.10" x2="294.80" y2="232.10" stroke="#333" stroke-width="0.9"/>
<text x="287.10" y="235.10" font-size="6.3" text-anchor="end" fill="#444">1.5x10</text>
<text x="287.20" y="232.60" font-size="3.0" text-anchor="start" fill="#555">3</text>
<line x1="292.20" y1="224.70" x2="294.80" y2="224.70" stroke="#333" stroke-width="0.9"/>
<text x="287.10" y="227.70" font-size="6.3" text-anchor="end" fill="#444">2x10</text>
<text x="287.20" y="225.20" font-size="3.0" text-anchor="start" fill="#555">3</text>
<line x1="292.20" y1="254.60" x2="359.50" y2="254.60" stroke="#333" stroke-width="1.1"/>
<line x1="310.00" y1="254.60" x2="310.00" y2="257.90" stroke="#333" stroke-width="0.9"/>
<line x1="343.75" y1="254.60" x2="343.75" y2="257.90" stroke="#333" stroke-width="0.9"/>
<circle cx="337.20" cy="190.00" r="0.92" fill="#a80f2c"/>
<rect x="336.38" y="197.18" width="1.65" height="1.65" fill="#1e4180"/>
<path d="M337.20 204.64L338.36 206.73L336.04 206.73Z" fill="#4f9f35"/>
<text x="340.50" y="192.00" font-size="5.8" text-anchor="start" fill="#333" textLength="16.0" lengthAdjust="spacingAndGlyphs">preTXA</text>
<text x="340.50" y="200.00" font-size="5.8" text-anchor="start" fill="#333" textLength="7.3" lengthAdjust="spacingAndGlyphs">t=4</text>
<text x="340.50" y="207.50" font-size="5.8" text-anchor="start" fill="#333" textLength="10.1" lengthAdjust="spacingAndGlyphs">t=24</text>
<line x1="300.25" y1="191.75" x2="319.75" y2="191.75" stroke="#7a7a7a" stroke-width="1.4"/>
<rect x="309.00" y="187.85" width="2" height="2" rx="0.6" fill="#555"/>
<line x1="333.25" y1="232.50" x2="343.75" y2="232.50" stroke="#7a7a7a" stroke-width="1.4"/>
<rect x="337.50" y="228.60" width="2" height="2" rx="0.6" fill="#555"/>
<circle cx="301.00" cy="202.75" r="1.15" fill="#a80f2c"/>
<circle cx="302.50" cy="206.10" r="1.15" fill="#a80f2c"/>
<circle cx="299.40" cy="208.60" r="1.15" fill="#a80f2c"/>
<circle cx="300.60" cy="209.90" r="1.15" fill="#a80f2c"/>
<circle cx="302.50" cy="213.00" r="1.15" fill="#a80f2c"/>
<circle cx="299.75" cy="215.25" r="1.15" fill="#a80f2c"/>
<line x1="297.30" y1="209.50" x2="303.70" y2="209.50" stroke="#111" stroke-width="1.0"/>
<line x1="300.50" y1="207.60" x2="300.50" y2="211.40" stroke="#111" stroke-width="0.9"/>
<line x1="298.70" y1="207.60" x2="302.30" y2="207.60" stroke="#111" stroke-width="0.9"/>
<line x1="298.70" y1="211.40" x2="302.30" y2="211.40" stroke="#111" stroke-width="0.9"/>
<rect x="308.90" y="195.65" width="2.20" height="2.20" fill="#1e4180"/>
<rect x="308.90" y="201.65" width="2.20" height="2.20" fill="#1e4180"/>
<rect x="307.00" y="204.40" width="2.20" height="2.20" fill="#1e4180"/>
<rect x="311.40" y="206.30" width="2.20" height="2.20" fill="#1e4180"/>
<rect x="307.00" y="210.90" width="2.20" height="2.20" fill="#1e4180"/>
<rect x="310.15" y="209.40" width="2.20" height="2.20" fill="#1e4180"/>
<line x1="306.80" y1="206.10" x2="313.20" y2="206.10" stroke="#111" stroke-width="1.0"/>
<line x1="310.00" y1="204.00" x2="310.00" y2="208.20" stroke="#111" stroke-width="0.9"/>
<line x1="308.20" y1="204.00" x2="311.80" y2="204.00" stroke="#111" stroke-width="0.9"/>
<line x1="308.20" y1="208.20" x2="311.80" y2="208.20" stroke="#111" stroke-width="0.9"/>
<path d="M319.10 203.45L320.55 206.06L317.65 206.06Z" fill="#4f9f35"/>
<path d="M318.10 212.15L319.55 214.76L316.65 214.76Z" fill="#4f9f35"/>
<path d="M320.00 213.45L321.45 216.06L318.55 216.06Z" fill="#4f9f35"/>
<path d="M319.10 215.05L320.55 217.66L317.65 217.66Z" fill="#4f9f35"/>
<path d="M317.70 211.05L319.15 213.66L316.25 213.66Z" fill="#4f9f35"/>
<path d="M320.40 211.55L321.85 214.16L318.95 214.16Z" fill="#4f9f35"/>
<line x1="315.90" y1="213.60" x2="322.30" y2="213.60" stroke="#111" stroke-width="1.0"/>
<line x1="319.10" y1="212.00" x2="319.10" y2="215.20" stroke="#111" stroke-width="0.9"/>
<line x1="317.30" y1="212.00" x2="320.90" y2="212.00" stroke="#111" stroke-width="0.9"/>
<line x1="317.30" y1="215.20" x2="320.90" y2="215.20" stroke="#111" stroke-width="0.9"/>
<circle cx="333.10" cy="241.50" r="1.15" fill="#a80f2c"/>
<circle cx="335.50" cy="241.50" r="1.15" fill="#a80f2c"/>
<circle cx="334.30" cy="243.00" r="1.15" fill="#a80f2c"/>
<circle cx="333.00" cy="244.00" r="1.15" fill="#a80f2c"/>
<circle cx="335.60" cy="244.00" r="1.15" fill="#a80f2c"/>
<line x1="331.10" y1="243.25" x2="337.50" y2="243.25" stroke="#111" stroke-width="1.0"/>
<line x1="334.30" y1="242.70" x2="334.30" y2="243.80" stroke="#111" stroke-width="0.9"/>
<line x1="332.50" y1="242.70" x2="336.10" y2="242.70" stroke="#111" stroke-width="0.9"/>
<line x1="332.50" y1="243.80" x2="336.10" y2="243.80" stroke="#111" stroke-width="0.9"/>
<rect x="341.45" y="238.50" width="2.20" height="2.20" fill="#1e4180"/>
<rect x="343.95" y="238.70" width="2.20" height="2.20" fill="#1e4180"/>
<rect x="342.65" y="240.90" width="2.20" height="2.20" fill="#1e4180"/>
<rect x="341.35" y="242.40" width="2.20" height="2.20" fill="#1e4180"/>
<rect x="344.05" y="243.40" width="2.20" height="2.20" fill="#1e4180"/>
<line x1="340.55" y1="242.50" x2="346.95" y2="242.50" stroke="#111" stroke-width="1.0"/>
<line x1="343.75" y1="241.80" x2="343.75" y2="243.20" stroke="#111" stroke-width="0.9"/>
<line x1="341.95" y1="241.80" x2="345.55" y2="241.80" stroke="#111" stroke-width="0.9"/>
<line x1="341.95" y1="243.20" x2="345.55" y2="243.20" stroke="#111" stroke-width="0.9"/>
<path d="M351.50 240.05L352.95 242.66L350.05 242.66Z" fill="#4f9f35"/>
<path d="M354.40 240.55L355.85 243.16L352.95 243.16Z" fill="#4f9f35"/>
<path d="M353.00 243.05L354.45 245.66L351.55 245.66Z" fill="#4f9f35"/>
<path d="M351.70 245.05L353.15 247.66L350.25 247.66Z" fill="#4f9f35"/>
<path d="M354.30 246.05L355.75 248.66L352.85 248.66Z" fill="#4f9f35"/>
<line x1="349.80" y1="245.00" x2="356.20" y2="245.00" stroke="#111" stroke-width="1.0"/>
<line x1="353.00" y1="244.20" x2="353.00" y2="245.80" stroke="#111" stroke-width="0.9"/>
<line x1="351.20" y1="244.20" x2="354.80" y2="244.20" stroke="#111" stroke-width="0.9"/>
<line x1="351.20" y1="245.80" x2="354.80" y2="245.80" stroke="#111" stroke-width="0.9"/>
<text transform="translate(313.40,263.30) rotate(-45)" font-size="5.9" text-anchor="end" fill="#222" stroke="#222" stroke-width="0.1">NK cells</text>
<text transform="translate(347.15,263.30) rotate(-45)" font-size="5.9" text-anchor="end" fill="#222" stroke="#222" stroke-width="0.1">CD4+ T cells</text>
<text transform="translate(382.80,164.40) scale(0.9,1)" font-size="11" fill="#1a1a1a">G</text>
<text x="438.75" y="176.90" font-size="8.2" text-anchor="start" fill="#222" textLength="51.25" lengthAdjust="spacingAndGlyphs" stroke="#222" stroke-width="0.1">LAP expression</text>
<text transform="translate(388.30,220.80) rotate(-90)" font-size="8.5" text-anchor="middle" fill="#222" textLength="12.4" lengthAdjust="spacingAndGlyphs" stroke="#222" stroke-width="0.15">MFI</text>
<line x1="416.10" y1="187.40" x2="416.10" y2="254.50" stroke="#333" stroke-width="1.1"/>
<line x1="413.20" y1="254.50" x2="416.00" y2="254.50" stroke="#333" stroke-width="0.9"/>
<text x="410.40" y="257.50" font-size="6.3" text-anchor="end" fill="#444">0</text>
<line x1="413.20" y1="238.30" x2="416.00" y2="238.30" stroke="#333" stroke-width="0.9"/>
<text x="408.10" y="241.30" font-size="6.3" text-anchor="end" fill="#444">1x10</text>
<text x="408.20" y="238.80" font-size="3.0" text-anchor="start" fill="#555">3</text>
<line x1="413.20" y1="222.30" x2="416.00" y2="222.30" stroke="#333" stroke-width="0.9"/>
<text x="408.10" y="225.30" font-size="6.3" text-anchor="end" fill="#444">2x10</text>
<text x="408.20" y="222.80" font-size="3.0" text-anchor="start" fill="#555">3</text>
<line x1="413.20" y1="206.10" x2="416.00" y2="206.10" stroke="#333" stroke-width="0.9"/>
<text x="408.10" y="209.10" font-size="6.3" text-anchor="end" fill="#444">3x10</text>
<text x="408.20" y="206.60" font-size="3.0" text-anchor="start" fill="#555">3</text>
<line x1="413.20" y1="190.10" x2="416.00" y2="190.10" stroke="#333" stroke-width="0.9"/>
<text x="408.10" y="193.10" font-size="6.3" text-anchor="end" fill="#444">4x10</text>
<text x="408.20" y="190.60" font-size="3.0" text-anchor="start" fill="#555">3</text>
<line x1="413.20" y1="254.50" x2="512.70" y2="254.50" stroke="#333" stroke-width="1.1"/>
<line x1="424.70" y1="254.50" x2="424.70" y2="257.80" stroke="#333" stroke-width="0.9"/>
<line x1="444.40" y1="254.50" x2="444.40" y2="257.80" stroke="#333" stroke-width="0.9"/>
<line x1="464.30" y1="254.50" x2="464.30" y2="257.80" stroke="#333" stroke-width="0.9"/>
<line x1="484.00" y1="254.50" x2="484.00" y2="257.80" stroke="#333" stroke-width="0.9"/>
<line x1="503.90" y1="254.50" x2="503.90" y2="257.80" stroke="#333" stroke-width="0.9"/>
<circle cx="491.45" cy="189.75" r="0.92" fill="#a80f2c"/>
<rect x="490.62" y="196.68" width="1.65" height="1.65" fill="#1e4180"/>
<path d="M491.45 204.64L492.61 206.73L490.29 206.73Z" fill="#4f9f35"/>
<text x="494.40" y="191.75" font-size="5.8" text-anchor="start" fill="#333" textLength="16.0" lengthAdjust="spacingAndGlyphs">preTXA</text>
<text x="494.40" y="199.50" font-size="5.8" text-anchor="start" fill="#333" textLength="7.3" lengthAdjust="spacingAndGlyphs">t=4</text>
<text x="494.40" y="207.50" font-size="5.8" text-anchor="start" fill="#333" textLength="10.1" lengthAdjust="spacingAndGlyphs">t=24</text>
<line x1="419.00" y1="238.70" x2="425.80" y2="238.70" stroke="#7a7a7a" stroke-width="1.4"/>
<rect x="421.40" y="234.80" width="2" height="2" rx="0.6" fill="#555"/>
<line x1="438.75" y1="190.50" x2="450.00" y2="190.50" stroke="#7a7a7a" stroke-width="1.4"/>
<rect x="443.38" y="186.60" width="2" height="2" rx="0.6" fill="#555"/>
<line x1="458.60" y1="222.90" x2="469.70" y2="222.90" stroke="#7a7a7a" stroke-width="1.4"/>
<rect x="463.15" y="219.00" width="2" height="2" rx="0.6" fill="#555"/>
<line x1="478.70" y1="230.40" x2="490.00" y2="230.40" stroke="#7a7a7a" stroke-width="1.4"/>
<rect x="483.35" y="226.50" width="2" height="2" rx="0.6" fill="#555"/>
<line x1="498.50" y1="227.90" x2="509.70" y2="227.90" stroke="#7a7a7a" stroke-width="1.4"/>
<rect x="503.10" y="224.00" width="2" height="2" rx="0.6" fill="#555"/>
<circle cx="418.20" cy="248.30" r="1.15" fill="#a80f2c"/>
<circle cx="420.60" cy="248.30" r="1.15" fill="#a80f2c"/>
<circle cx="419.40" cy="249.50" r="1.15" fill="#a80f2c"/>
<circle cx="418.80" cy="249.90" r="1.15" fill="#a80f2c"/>
<circle cx="420.00" cy="250.10" r="1.15" fill="#a80f2c"/>
<line x1="416.20" y1="248.80" x2="422.60" y2="248.80" stroke="#111" stroke-width="1.0"/>
<line x1="419.40" y1="248.30" x2="419.40" y2="249.30" stroke="#111" stroke-width="0.9"/>
<line x1="417.60" y1="248.30" x2="421.20" y2="248.30" stroke="#111" stroke-width="0.9"/>
<line x1="417.60" y1="249.30" x2="421.20" y2="249.30" stroke="#111" stroke-width="0.9"/>
<rect x="423.60" y="244.80" width="2.20" height="2.20" fill="#1e4180"/>
<rect x="422.30" y="246.40" width="2.20" height="2.20" fill="#1e4180"/>
<rect x="424.90" y="246.40" width="2.20" height="2.20" fill="#1e4180"/>
<rect x="422.60" y="248.10" width="2.20" height="2.20" fill="#1e4180"/>
<rect x="424.60" y="248.30" width="2.20" height="2.20" fill="#1e4180"/>
<line x1="421.50" y1="248.00" x2="427.90" y2="248.00" stroke="#111" stroke-width="1.0"/>
<line x1="424.70" y1="247.20" x2="424.70" y2="248.80" stroke="#111" stroke-width="0.9"/>
<line x1="422.90" y1="247.20" x2="426.50" y2="247.20" stroke="#111" stroke-width="0.9"/>
<line x1="422.90" y1="248.80" x2="426.50" y2="248.80" stroke="#111" stroke-width="0.9"/>
<path d="M429.20 248.55L430.65 251.16L427.75 251.16Z" fill="#4f9f35"/>
<path d="M431.80 248.55L433.25 251.16L430.35 251.16Z" fill="#4f9f35"/>
<path d="M430.50 249.05L431.95 251.66L429.05 251.66Z" fill="#4f9f35"/>
<path d="M429.80 249.55L431.25 252.16L428.35 252.16Z" fill="#4f9f35"/>
<path d="M431.20 249.55L432.65 252.16L429.75 252.16Z" fill="#4f9f35"/>
<line x1="427.30" y1="250.50" x2="433.70" y2="250.50" stroke="#111" stroke-width="1.0"/>
<line x1="430.50" y1="250.00" x2="430.50" y2="251.00" stroke="#111" stroke-width="0.9"/>
<line x1="428.70" y1="250.00" x2="432.30" y2="250.00" stroke="#111" stroke-width="0.9"/>
<line x1="428.70" y1="251.00" x2="432.30" y2="251.00" stroke="#111" stroke-width="0.9"/>
<circle cx="438.50" cy="207.20" r="1.15" fill="#a80f2c"/>
<circle cx="437.50" cy="215.40" r="1.15" fill="#a80f2c"/>
<circle cx="440.10" cy="217.20" r="1.15" fill="#a80f2c"/>
<circle cx="437.50" cy="224.40" r="1.15" fill="#a80f2c"/>
<circle cx="440.10" cy="226.90" r="1.15" fill="#a80f2c"/>
<circle cx="438.80" cy="230.40" r="1.15" fill="#a80f2c"/>
<circle cx="437.50" cy="235.50" r="1.15" fill="#a80f2c"/>
<circle cx="441.70" cy="235.50" r="1.15" fill="#a80f2c"/>
<line x1="435.60" y1="223.80" x2="442.00" y2="223.80" stroke="#111" stroke-width="1.0"/>
<line x1="438.80" y1="219.30" x2="438.80" y2="227.90" stroke="#111" stroke-width="0.9"/>
<line x1="437.00" y1="219.30" x2="440.60" y2="219.30" stroke="#111" stroke-width="0.9"/>
<line x1="437.00" y1="227.90" x2="440.60" y2="227.90" stroke="#111" stroke-width="0.9"/>
<rect x="443.80" y="192.50" width="2.20" height="2.20" fill="#1e4180"/>
<rect x="443.80" y="204.80" width="2.20" height="2.20" fill="#1e4180"/>
<rect x="443.80" y="209.80" width="2.20" height="2.20" fill="#1e4180"/>
<rect x="443.80" y="212.00" width="2.20" height="2.20" fill="#1e4180"/>
<rect x="443.80" y="217.30" width="2.20" height="2.20" fill="#1e4180"/>
<rect x="441.90" y="226.30" width="2.20" height="2.20" fill="#1e4180"/>
<rect x="445.90" y="226.30" width="2.20" height="2.20" fill="#1e4180"/>
<rect x="443.80" y="230.80" width="2.20" height="2.20" fill="#1e4180"/>
<rect x="443.80" y="234.40" width="2.20" height="2.20" fill="#1e4180"/>
<line x1="441.70" y1="219.30" x2="448.10" y2="219.30" stroke="#111" stroke-width="1.0"/>
<line x1="444.90" y1="213.00" x2="444.90" y2="225.30" stroke="#111" stroke-width="0.9"/>
<line x1="443.10" y1="213.00" x2="446.70" y2="213.00" stroke="#111" stroke-width="0.9"/>
<line x1="443.10" y1="225.30" x2="446.70" y2="225.30" stroke="#111" stroke-width="0.9"/>
<path d="M448.40 226.45L449.85 229.06L446.95 229.06Z" fill="#4f9f35"/>
<path d="M452.80 226.45L454.25 229.06L451.35 229.06Z" fill="#4f9f35"/>
<path d="M450.40 230.05L451.85 232.66L448.95 232.66Z" fill="#4f9f35"/>
<path d="M449.40 236.75L450.85 239.36L447.95 239.36Z" fill="#4f9f35"/>
<path d="M451.70 231.85L453.15 234.46L450.25 234.46Z" fill="#4f9f35"/>
<line x1="447.20" y1="232.80" x2="453.60" y2="232.80" stroke="#111" stroke-width="1.0"/>
<line x1="450.40" y1="229.50" x2="450.40" y2="236.10" stroke="#111" stroke-width="0.9"/>
<line x1="448.60" y1="229.50" x2="452.20" y2="229.50" stroke="#111" stroke-width="0.9"/>
<line x1="448.60" y1="236.10" x2="452.20" y2="236.10" stroke="#111" stroke-width="0.9"/>
<circle cx="457.50" cy="236.90" r="1.15" fill="#a80f2c"/>
<circle cx="460.10" cy="236.90" r="1.15" fill="#a80f2c"/>
<circle cx="458.80" cy="237.80" r="1.15" fill="#a80f2c"/>
<circle cx="458.20" cy="238.60" r="1.15" fill="#a80f2c"/>
<circle cx="459.40" cy="238.60" r="1.15" fill="#a80f2c"/>
<line x1="455.60" y1="237.60" x2="462.00" y2="237.60" stroke="#111" stroke-width="1.0"/>
<line x1="458.80" y1="237.10" x2="458.80" y2="238.10" stroke="#111" stroke-width="0.9"/>
<line x1="457.00" y1="237.10" x2="460.60" y2="237.10" stroke="#111" stroke-width="0.9"/>
<line x1="457.00" y1="238.10" x2="460.60" y2="238.10" stroke="#111" stroke-width="0.9"/>
<rect x="461.90" y="235.40" width="2.20" height="2.20" fill="#1e4180"/>
<rect x="464.50" y="235.60" width="2.20" height="2.20" fill="#1e4180"/>
<rect x="463.20" y="236.70" width="2.20" height="2.20" fill="#1e4180"/>
<rect x="462.60" y="237.70" width="2.20" height="2.20" fill="#1e4180"/>
<rect x="463.80" y="237.80" width="2.20" height="2.20" fill="#1e4180"/>
<line x1="461.10" y1="237.60" x2="467.50" y2="237.60" stroke="#111" stroke-width="1.0"/>
<line x1="464.30" y1="237.00" x2="464.30" y2="238.20" stroke="#111" stroke-width="0.9"/>
<line x1="462.50" y1="237.00" x2="466.10" y2="237.00" stroke="#111" stroke-width="0.9"/>
<line x1="462.50" y1="238.20" x2="466.10" y2="238.20" stroke="#111" stroke-width="0.9"/>
<path d="M470.50 235.45L471.95 238.06L469.05 238.06Z" fill="#4f9f35"/>
<path d="M468.70 238.55L470.15 241.16L467.25 241.16Z" fill="#4f9f35"/>
<path d="M471.70 238.85L473.15 241.46L470.25 241.46Z" fill="#4f9f35"/>
<path d="M468.90 243.15L470.35 245.76L467.45 245.76Z" fill="#4f9f35"/>
<path d="M471.50 243.85L472.95 246.46L470.05 246.46Z" fill="#4f9f35"/>
<line x1="467.00" y1="240.80" x2="473.40" y2="240.80" stroke="#111" stroke-width="1.0"/>
<line x1="470.20" y1="239.70" x2="470.20" y2="241.90" stroke="#111" stroke-width="0.9"/>
<line x1="468.40" y1="239.70" x2="472.00" y2="239.70" stroke="#111" stroke-width="0.9"/>
<line x1="468.40" y1="241.90" x2="472.00" y2="241.90" stroke="#111" stroke-width="0.9"/>
<circle cx="477.50" cy="242.20" r="1.15" fill="#a80f2c"/>
<circle cx="480.10" cy="242.20" r="1.15" fill="#a80f2c"/>
<circle cx="478.80" cy="243.20" r="1.15" fill="#a80f2c"/>
<circle cx="478.20" cy="243.90" r="1.15" fill="#a80f2c"/>
<circle cx="479.40" cy="243.90" r="1.15" fill="#a80f2c"/>
<line x1="475.60" y1="243.00" x2="482.00" y2="243.00" stroke="#111" stroke-width="1.0"/>
<line x1="478.80" y1="242.50" x2="478.80" y2="243.50" stroke="#111" stroke-width="0.9"/>
<line x1="477.00" y1="242.50" x2="480.60" y2="242.50" stroke="#111" stroke-width="0.9"/>
<line x1="477.00" y1="243.50" x2="480.60" y2="243.50" stroke="#111" stroke-width="0.9"/>
<rect x="481.70" y="240.90" width="2.20" height="2.20" fill="#1e4180"/>
<rect x="484.30" y="241.10" width="2.20" height="2.20" fill="#1e4180"/>
<rect x="483.00" y="242.00" width="2.20" height="2.20" fill="#1e4180"/>
<rect x="482.40" y="242.90" width="2.20" height="2.20" fill="#1e4180"/>
<rect x="483.60" y="242.90" width="2.20" height="2.20" fill="#1e4180"/>
<line x1="480.90" y1="243.00" x2="487.30" y2="243.00" stroke="#111" stroke-width="1.0"/>
<line x1="484.10" y1="242.40" x2="484.10" y2="243.60" stroke="#111" stroke-width="0.9"/>
<line x1="482.30" y1="242.40" x2="485.90" y2="242.40" stroke="#111" stroke-width="0.9"/>
<line x1="482.30" y1="243.60" x2="485.90" y2="243.60" stroke="#111" stroke-width="0.9"/>
<path d="M488.20 240.85L489.65 243.46L486.75 243.46Z" fill="#4f9f35"/>
<path d="M490.80 241.15L492.25 243.76L489.35 243.76Z" fill="#4f9f35"/>
<path d="M489.50 244.05L490.95 246.66L488.05 246.66Z" fill="#4f9f35"/>
<path d="M488.30 246.15L489.75 248.76L486.85 248.76Z" fill="#4f9f35"/>
<path d="M490.70 246.55L492.15 249.16L489.25 249.16Z" fill="#4f9f35"/>
<line x1="486.30" y1="245.30" x2="492.70" y2="245.30" stroke="#111" stroke-width="1.0"/>
<line x1="489.50" y1="244.00" x2="489.50" y2="246.60" stroke="#111" stroke-width="0.9"/>
<line x1="487.70" y1="244.00" x2="491.30" y2="244.00" stroke="#111" stroke-width="0.9"/>
<line x1="487.70" y1="246.60" x2="491.30" y2="246.60" stroke="#111" stroke-width="0.9"/>
<circle cx="496.70" cy="240.00" r="1.15" fill="#a80f2c"/>
<circle cx="499.70" cy="240.00" r="1.15" fill="#a80f2c"/>
<circle cx="498.20" cy="241.30" r="1.15" fill="#a80f2c"/>
<circle cx="497.40" cy="242.50" r="1.15" fill="#a80f2c"/>
<circle cx="499.00" cy="243.50" r="1.15" fill="#a80f2c"/>
<line x1="495.00" y1="241.50" x2="501.40" y2="241.50" stroke="#111" stroke-width="1.0"/>
<line x1="498.20" y1="240.70" x2="498.20" y2="242.30" stroke="#111" stroke-width="0.9"/>
<line x1="496.40" y1="240.70" x2="500.00" y2="240.70" stroke="#111" stroke-width="0.9"/>
<line x1="496.40" y1="242.30" x2="500.00" y2="242.30" stroke="#111" stroke-width="0.9"/>
<rect x="501.40" y="238.90" width="2.20" height="2.20" fill="#1e4180"/>
<rect x="504.00" y="239.10" width="2.20" height="2.20" fill="#1e4180"/>
<rect x="502.70" y="239.90" width="2.20" height="2.20" fill="#1e4180"/>
<rect x="502.10" y="240.90" width="2.20" height="2.20" fill="#1e4180"/>
<rect x="503.30" y="240.90" width="2.20" height="2.20" fill="#1e4180"/>
<line x1="500.60" y1="240.80" x2="507.00" y2="240.80" stroke="#111" stroke-width="1.0"/>
<line x1="503.80" y1="240.20" x2="503.80" y2="241.40" stroke="#111" stroke-width="0.9"/>
<line x1="502.00" y1="240.20" x2="505.60" y2="240.20" stroke="#111" stroke-width="0.9"/>
<line x1="502.00" y1="241.40" x2="505.60" y2="241.40" stroke="#111" stroke-width="0.9"/>
<path d="M507.90 240.25L509.35 242.86L506.45 242.86Z" fill="#4f9f35"/>
<path d="M510.50 240.45L511.95 243.06L509.05 243.06Z" fill="#4f9f35"/>
<path d="M509.20 242.55L510.65 245.16L507.75 245.16Z" fill="#4f9f35"/>
<path d="M508.00 245.05L509.45 247.66L506.55 247.66Z" fill="#4f9f35"/>
<path d="M510.40 245.65L511.85 248.26L508.95 248.26Z" fill="#4f9f35"/>
<line x1="506.00" y1="243.50" x2="512.40" y2="243.50" stroke="#111" stroke-width="1.0"/>
<line x1="509.20" y1="242.40" x2="509.20" y2="244.60" stroke="#111" stroke-width="0.9"/>
<line x1="507.40" y1="242.40" x2="511.00" y2="242.40" stroke="#111" stroke-width="0.9"/>
<line x1="507.40" y1="244.60" x2="511.00" y2="244.60" stroke="#111" stroke-width="0.9"/>
<text transform="translate(428.10,263.00) rotate(-45)" font-size="5.9" text-anchor="end" fill="#222" stroke="#222" stroke-width="0.1">NK cells</text>
<text transform="translate(447.80,263.00) rotate(-45)" font-size="5.9" text-anchor="end" fill="#222" stroke="#222" stroke-width="0.1">NKT cells</text>
<text transform="translate(467.70,263.00) rotate(-45)" font-size="5.9" text-anchor="end" fill="#222" stroke="#222" stroke-width="0.1">CD4+ T cells</text>
<text transform="translate(487.40,263.00) rotate(-45)" font-size="5.9" text-anchor="end" fill="#222" stroke="#222" stroke-width="0.1">CD8+ T cells</text>
<text transform="translate(507.30,263.00) rotate(-45)" font-size="5.9" text-anchor="end" fill="#222" stroke="#222" stroke-width="0.1">CD8+ Teff</text>
</svg>
<div class="frame f1"></div><div style="position:absolute;left:0;top:0;width:1px;height:1px;background:#8a8a8a"></div><div style="position:absolute;right:0;top:0;width:1px;height:1px;background:#8a8a8a"></div><div style="position:absolute;left:0;bottom:0;width:1px;height:1px;background:#8a8a8a"></div><div style="position:absolute;right:0;bottom:0;width:1px;height:1px;background:#8a8a8a"></div><div class="frame f2"></div><div class="frame f3"></div>
</body></html>
